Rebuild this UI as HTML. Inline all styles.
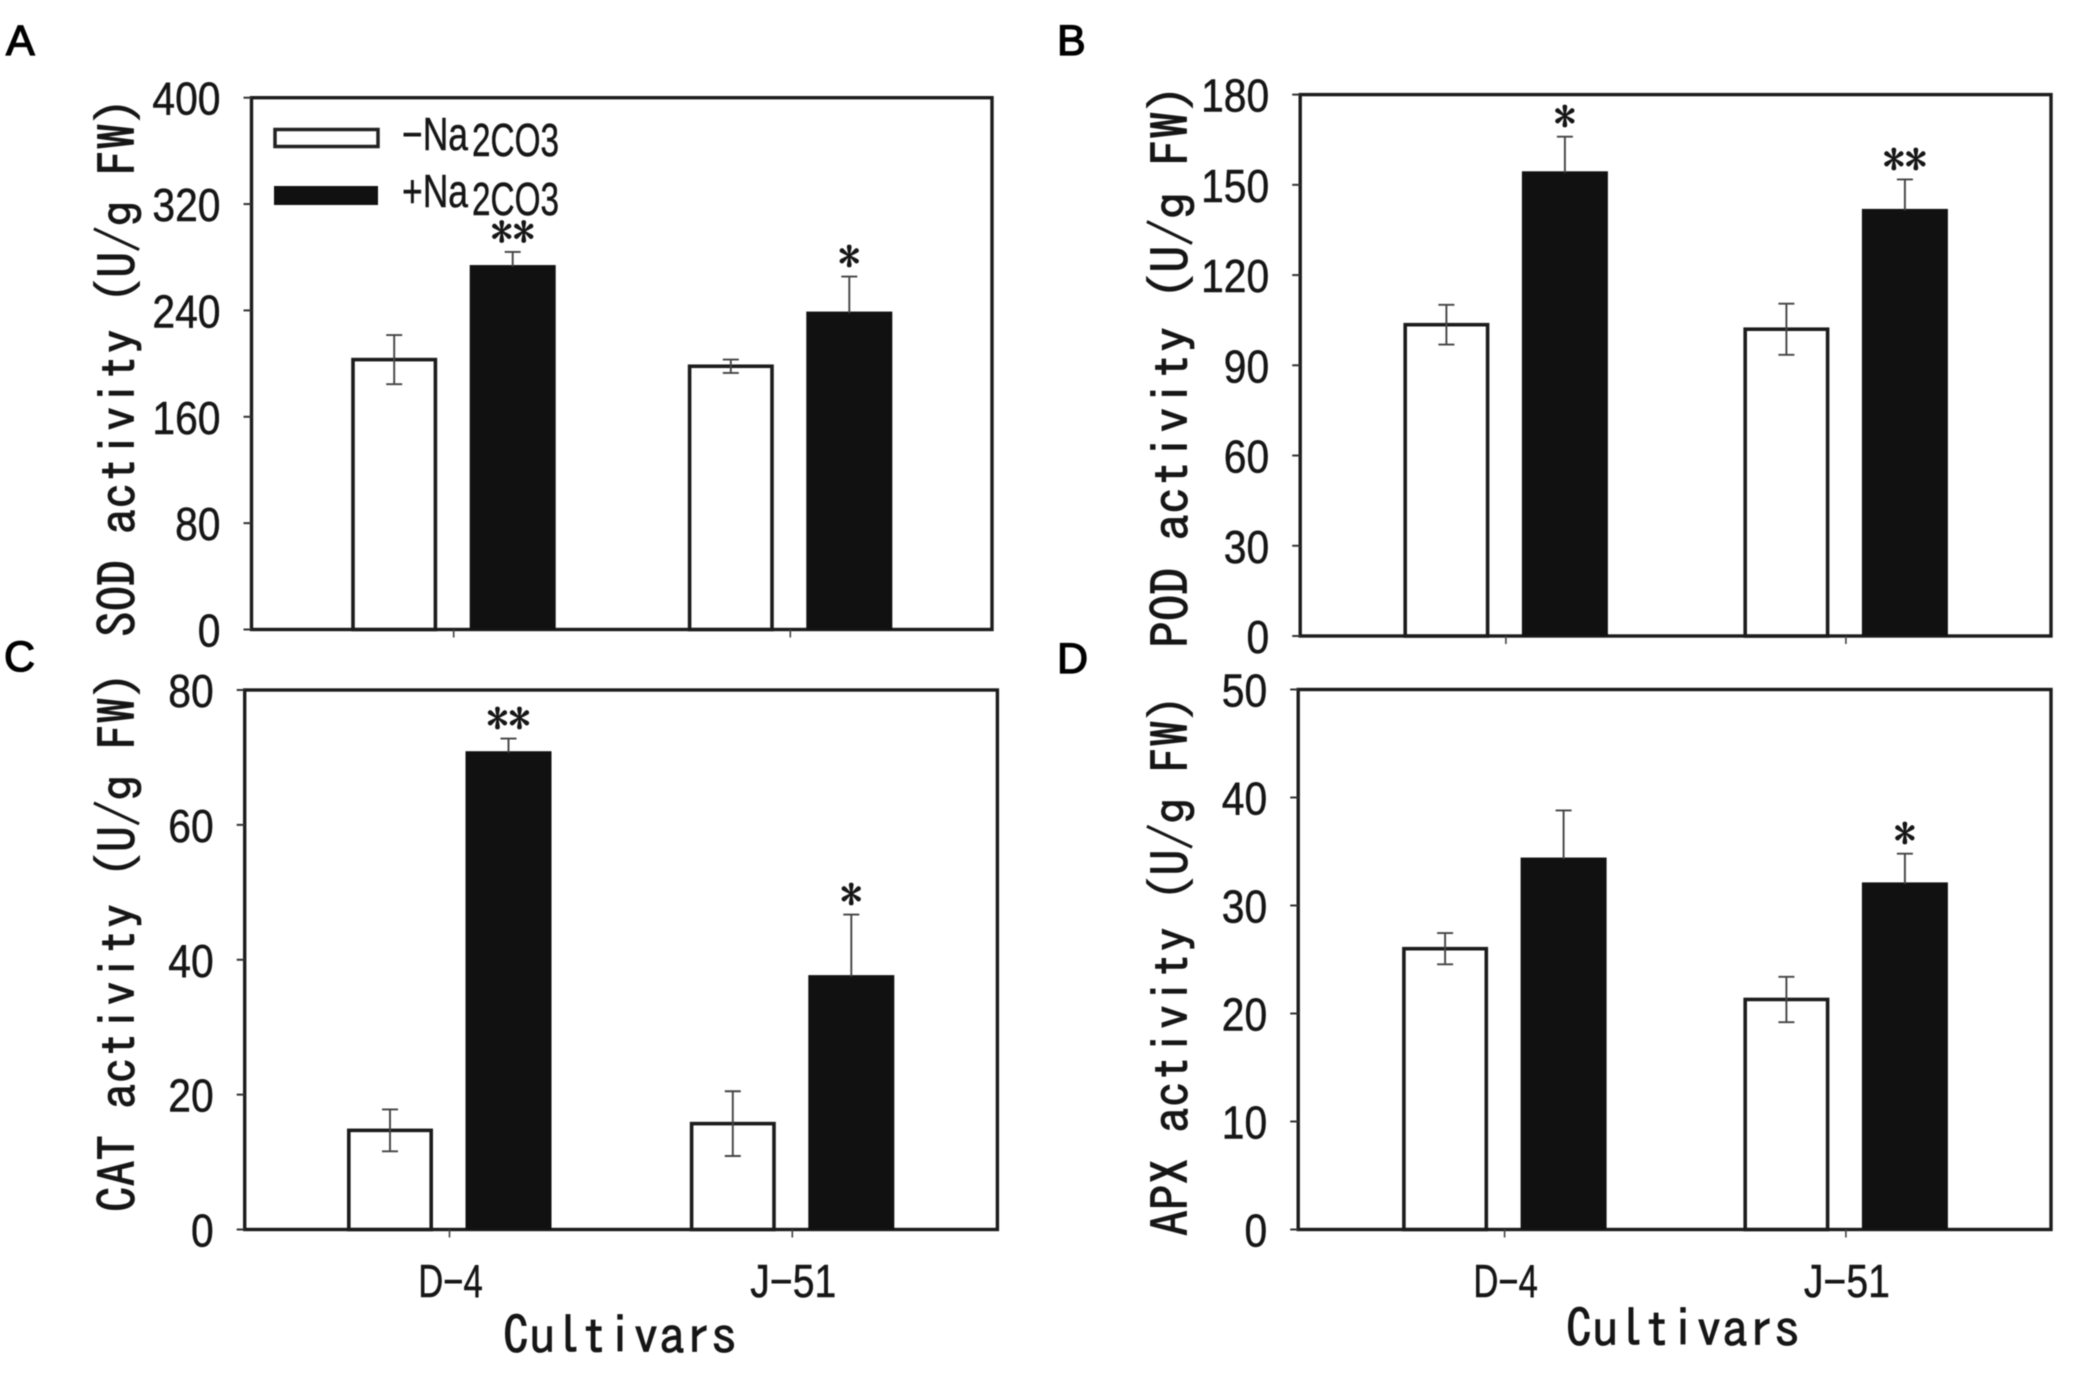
<!DOCTYPE html>
<html lang="en">
<head>
<meta charset="utf-8">
<title>Antioxidant enzyme activity by cultivar</title>
<style>
html,body{margin:0;padding:0;background:#fff;}
#figure{display:block;width:2074px;height:1377px;filter:blur(0.6px);}
text{font-family:"IPAGothic","Liberation Mono",monospace;fill:#161616;stroke:#161616;stroke-width:.8px;}
.narrow{font-family:"Liberation Sans",sans-serif;stroke-width:.5px;}
.panel-letter{font-family:"Liberation Sans",sans-serif;font-size:43px;stroke:#000;stroke-width:1.3px;fill:#000;}
</style>
</head>
<body>
<svg id="figure" xmlns="http://www.w3.org/2000/svg" width="2074" height="1377" viewBox="0 0 2074 1377">
  <rect x="0" y="0" width="2074" height="1377" fill="#ffffff"/>
  <g id="panels"></g>
  <g id="legend">
    <rect x="275" y="129.5" width="103" height="17" fill="#fff" stroke="#222" stroke-width="3.5"/>
    <text class="narrow" x="402" y="150" font-size="46" textLength="66" lengthAdjust="spacingAndGlyphs">−Na</text>
    <text class="narrow" x="472" y="156" font-size="46" textLength="87" lengthAdjust="spacingAndGlyphs">2CO3</text>
    <rect x="274" y="186" width="104" height="19" fill="#111"/>
    <text class="narrow" x="402" y="207" font-size="46" textLength="66" lengthAdjust="spacingAndGlyphs">+Na</text>
    <text class="narrow" x="472" y="215" font-size="46" textLength="87" lengthAdjust="spacingAndGlyphs">2CO3</text>
  </g>
  <text class="panel-letter" x="6" y="55">A</text>
  <text class="panel-letter" x="1057" y="55">B</text>
  <text class="panel-letter" x="4" y="671">C</text>
  <text class="panel-letter" x="1057" y="673">D</text>
</svg>
<script>
// Chart data
const categories = ["D−4", "J−51"];

const sodTicks = [0, 80, 160, 240, 320, 400];
const sodMinus = [203, 198];
const sodMinusErr = [18.5, 5];
const sodPlus = [273, 238];
const sodPlusErr = [11, 27.5];
const sodSig = ["**", "*"];

const podTicks = [0, 30, 60, 90, 120, 150, 180];
const podMinus = [103.5, 102];
const podMinusErr = [6.6, 8.5];
const podPlus = [154, 141.5];
const podPlusErr = [12, 10.3];
const podSig = ["*", "**"];

const catTicks = [0, 20, 40, 60, 80];
const catMinus = [14.7, 15.7];
const catMinusErr = [3.1, 4.8];
const catPlus = [70.7, 37.5];
const catPlusErr = [2.1, 9.2];
const catSig = ["**", "*"];

const apxTicks = [0, 10, 20, 30, 40, 50];
const apxMinus = [26, 21.3];
const apxMinusErr = [1.45, 2.1];
const apxPlus = [34.3, 32];
const apxPlusErr = [4.5, 2.8];
const apxSig = ["", "*"];

const NS = "http://www.w3.org/2000/svg";
const root = document.getElementById("panels");

function node(parent, tag, attrs, content) {
  const el = document.createElementNS(NS, tag);
  for (const k in attrs) el.setAttribute(k, attrs[k]);
  if (content !== undefined) el.textContent = content;
  parent.appendChild(el);
  return el;
}

function drawPanel(p) {
  const g = node(root, "g", {});
  
  

  const yMax = p.ticks[p.ticks.length - 1];
  const yScale = v => p.bottom - (v / yMax) * (p.bottom - p.top);
  const xScale = i => p.tickX0 + i * p.tickStep;

  const frame = node(g, "rect", {x: p.left, y: p.top, width: p.right - p.left, height: p.bottom - p.top, fill: "#fff", stroke: "#1c1c1c", "stroke-width": 3.4});
  
  

  p.ticks.forEach(t => {
    const y = yScale(t);
    const tick = node(g, "line", {x1: p.left - 8, x2: p.left, y1: y, y2: y, stroke: "#333", "stroke-width": 2});
    
    
    const str = String(t);
    const label = node(g, "text", {class: "narrow", x: p.left - 31, y: y + 17, "font-size": 46, "text-anchor": "end", textLength: str.length * 22.7, lengthAdjust: "spacingAndGlyphs"}, str);
    
    
  });

  const yTitle = node(g, "text", {transform: "translate(" + p.titleX + "," + p.titleStart + ") rotate(-90)", x: 0, y: 0, "font-size": 51, textLength: p.titleStart - p.titleEnd, lengthAdjust: "spacingAndGlyphs"}, p.title);
  
  

  categories.forEach((c, i) => {
    const cx = xScale(i);
    const tick = node(g, "line", {x1: cx, x2: cx, y1: p.bottom, y2: p.bottom + 8, stroke: "#444", "stroke-width": 1.6});
    
    

    if (p.showX) {
      const lab = node(g, "text", {class: "narrow", x: cx + 1, y: 1297, "font-size": 46, "text-anchor": "middle", textLength: c.length * 21.5, lengthAdjust: "spacingAndGlyphs"}, c);
      
      
    }

    // Minus-carbonate bar
    const wx = cx - 59.5;
    const wTop = yScale(p.minus[i]);
    const wBar = node(g, "rect", {x: wx - 41.2, y: wTop, width: 82.4, height: p.bottom - wTop, fill: "#fff", stroke: "#1c1c1c", "stroke-width": 3.6});
    
    

    const wHi = yScale(p.minus[i] + p.minusErr[i]);
    const wLo = yScale(p.minus[i] - p.minusErr[i]);
    const wErr = node(g, "path", {d: "M" + (wx - 8) + " " + wHi + "H" + (wx + 8) + "M" + wx + " " + wHi + "V" + wLo + "M" + (wx - 8) + " " + wLo + "H" + (wx + 8), fill: "none", stroke: "#444", "stroke-width": 1.9});
    
    

    // Plus-carbonate bar
    const bx = cx + 59;
    const bTop = yScale(p.plus[i]);
    const bBar = node(g, "rect", {x: bx - 43, y: bTop - 1.5, width: 86, height: p.bottom - bTop + 1.5, fill: "#111"});
    
    

    const bHi = yScale(p.plus[i] + p.plusErr[i]);
    const bErr = node(g, "path", {d: "M" + (bx - 8) + " " + bHi + "H" + (bx + 8) + "M" + bx + " " + bHi + "V" + bTop, fill: "none", stroke: "#444", "stroke-width": 1.9});
    
    

    if (p.sig[i]) {
      const star = node(g, "text", {x: bx, y: bHi - 4, "font-size": 44, "text-anchor": "middle"}, p.sig[i]);
      
      
    }
  });

  if (p.showX) {
    const xTitle = node(g, "text", {x: p.xTitleX, y: p.xTitleY, "font-size": 52, "text-anchor": "middle", "stroke-width": 1}, "Cultivars");
    
    
  }
}

drawPanel({id: "sod", title: "SOD activity (U/g FW)", ticks: sodTicks, minus: sodMinus, minusErr: sodMinusErr, plus: sodPlus, plusErr: sodPlusErr, sig: sodSig,
  left: 251.5, right: 992, top: 97.7, bottom: 629.5, tickX0: 453.7, tickStep: 336.6, titleX: 136, titleStart: 637, titleEnd: 98, showX: false});
drawPanel({id: "pod", title: "POD activity (U/g FW)", ticks: podTicks, minus: podMinus, minusErr: podMinusErr, plus: podPlus, plusErr: podPlusErr, sig: podSig,
  left: 1300.2, right: 2051, top: 94.6, bottom: 636, tickX0: 1505.9, tickStep: 340, titleX: 1189, titleStart: 648, titleEnd: 85, showX: false});
drawPanel({id: "cat", title: "CAT activity (U/g FW)", ticks: catTicks, minus: catMinus, minusErr: catMinusErr, plus: catPlus, plusErr: catPlusErr, sig: catSig,
  left: 244.7, right: 997.4, top: 690, bottom: 1229.5, tickX0: 449.5, tickStep: 342.8, titleX: 136, titleStart: 1212, titleEnd: 672, showX: true, xTitleX: 620, xTitleY: 1354});
drawPanel({id: "apx", title: "APX activity (U/g FW)", ticks: apxTicks, minus: apxMinus, minusErr: apxMinusErr, plus: apxPlus, plusErr: apxPlusErr, sig: apxSig,
  left: 1298.2, right: 2051, top: 689.5, bottom: 1229.5, tickX0: 1504.6, tickStep: 341.3, titleX: 1189, titleStart: 1236, titleEnd: 695, showX: true, xTitleX: 1683, xTitleY: 1347});
</script>
</body>
</html>
